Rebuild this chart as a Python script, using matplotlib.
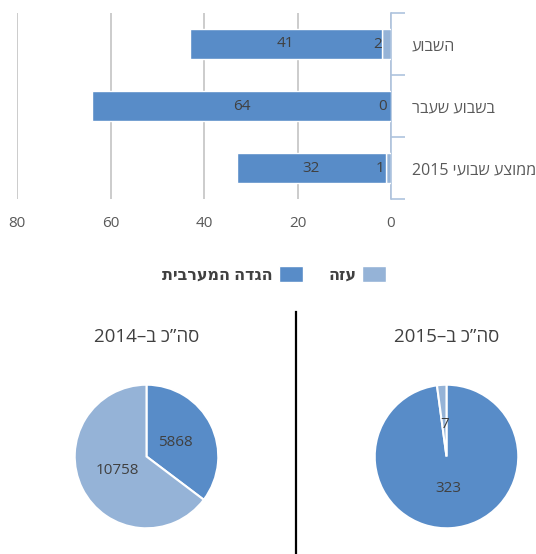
import re
import matplotlib
matplotlib.use("Agg")
import matplotlib.pyplot as plt
import numpy as np

# ---- data ----
categories = ["השבוע", "בשבוע שעבר", "ממוצע שבועי 2015"]
series_names = ["עזה", "הגדה המערבית"]
gaza = [2, 0, 1]
west_bank = [41, 64, 32]
x_ticks = [0, 20, 40, 60, 80]
pie_titles = ["סה”כ ב–2014", "סה”כ ב–2015"]
pie_2014 = [5868, 10758]   # West Bank, Gaza
pie_2015 = [323, 7]        # West Bank, Gaza

DARK = "#588cc8"
LIGHT = "#95b3d7"
TXT = "#404040"
TICK = "#595959"

plt.rcParams['font.family'] = ['Open Sans', 'DejaVu Sans']


def vis(s):
    """Logical RTL string -> visual (LTR drawing) order, keeping digit runs."""
    r = s[::-1]
    return re.sub(r'[0-9]+', lambda m: m.group(0)[::-1], r)


W, H = 536, 554
fig = plt.figure(figsize=(W / 100, H / 100), dpi=100)

# ---- bar chart ----
ax = fig.add_axes([17 / W, 1 - 199 / H, (391 - 17) / W, (199 - 13) / H])
y = np.arange(len(categories))
bg = ax.barh(y, gaza, height=0.47, color=LIGHT, edgecolor="white", linewidth=1,
             label=vis(series_names[0]), zorder=3)
bw = ax.barh(y, west_bank, left=gaza, height=0.47, color=DARK, edgecolor="white",
             linewidth=1, label=vis(series_names[1]), zorder=3)
ax.bar_label(bw, labels=[str(v) for v in west_bank], label_type="center",
             fontsize=11, color=TXT)
for yi, g in zip(y, gaza):
    ax.annotate(str(g), xy=(g / 2, yi), xytext=(-3, 0), textcoords="offset points",
                ha="right", va="center", fontsize=11, color=TXT, zorder=4)

ax.set_xlim(80, 0)
ax.set_ylim(len(categories) - 0.5, -0.5)
ax.set_xticks(x_ticks)
ax.set_xticklabels([str(t) for t in x_ticks])
ax.tick_params(axis="x", length=0, pad=12, labelsize=11, labelcolor=TICK)
ax.xaxis.grid(True, color="#c8c8c8", linewidth=1.3, zorder=0)
ax.set_axisbelow(True)

ax.yaxis.tick_right()
ax.set_yticks(np.arange(-0.5, len(categories), 1.0))
ax.set_yticklabels([])
ax.tick_params(axis="y", which="major", direction="out", length=10, width=1.2,
               color="#aec3de")
ax.set_yticks(y, minor=True)
ax.set_yticklabels([vis(c) for c in categories], minor=True)
ax.tick_params(axis="y", which="minor", length=0, pad=15, labelsize=11.5,
               labelcolor=TICK)
for s in ["left", "top", "bottom"]:
    ax.spines[s].set_visible(False)
ax.spines["right"].set_color("#aec3de")
ax.spines["right"].set_linewidth(1.2)

# ---- legend ----
fig.legend(handles=[bw, bg], labels=[vis(series_names[1]), vis(series_names[0])],
           ncol=2, markerfirst=False, loc="center", bbox_to_anchor=(274 / W, 1 - 275 / H),
           frameon=False, prop={"weight": "bold", "size": 11.5}, handlelength=1.5,
           handleheight=1.1, handletextpad=0.4, columnspacing=1.6, labelcolor=TXT)

# ---- pies ----
R = 72.5
CY = 456.5


def draw_pie(cx, vals, title):
    pax = fig.add_axes([(cx - R) / W, 1 - (CY + R) / H, 2 * R / W, 2 * R / H])
    total = sum(vals)
    pax.pie(vals, colors=[DARK, LIGHT], startangle=90, counterclock=False,
            autopct=lambda p: f"{round(p * total / 100):d}", pctdistance=0.45,
            wedgeprops={"edgecolor": "white", "linewidth": 1.5},
            textprops={"fontsize": 11, "color": TXT})
    pax.set_xlim(-1.01, 1.01)
    pax.set_ylim(-1.01, 1.01)
    fig.text(cx / W, 1 - 337 / H, vis(title), ha="center", va="center",
             fontsize=13.5, color=TXT)


draw_pie(146.5, pie_2014, pie_titles[0])
draw_pie(446.5, pie_2015, pie_titles[1])

# divider
fig.add_artist(plt.Line2D([296 / W, 296 / W], [0, 1 - 312 / H], color="black",
                          linewidth=1.6, transform=fig.transFigure))

fig.savefig("out.png", dpi=100)
